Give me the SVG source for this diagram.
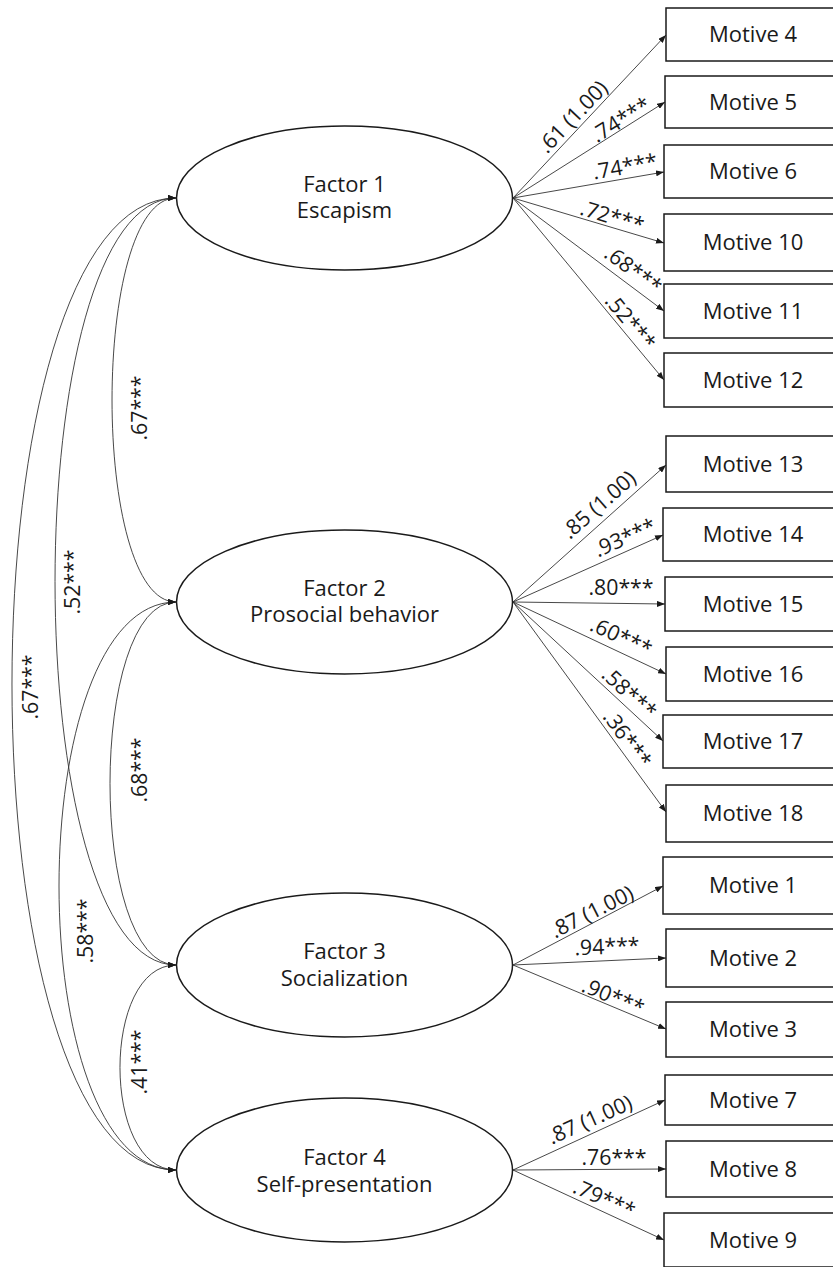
<svg xmlns="http://www.w3.org/2000/svg" width="833" height="1267" viewBox="0 0 833 1267">
<style>
  .bg{fill:#ffffff}
  .ell{fill:#ffffff;stroke:#1a1a1a;stroke-width:1.5}
  .box{fill:#ffffff;stroke:#1a1a1a;stroke-width:1.5}
  .nt{font-family:"Open Sans","Noto Sans","DejaVu Sans",sans-serif;font-size:22px;fill:#1a1a1a;text-anchor:middle}
  .lb{font-family:"Open Sans","Noto Sans","DejaVu Sans",sans-serif;font-size:21.3px;fill:#1a1a1a;text-anchor:middle}
  .ld{fill:none;stroke:#333333;stroke-width:0.9;marker-end:url(#ah)}
  .cv{fill:none;stroke:#333333;stroke-width:0.9;marker-start:url(#ah2);marker-end:url(#ah)}
</style>
<defs>
  <marker id="ah" viewBox="0 0 8 6" refX="8" refY="3" markerWidth="8" markerHeight="6" markerUnits="userSpaceOnUse" orient="auto">
    <path d="M0,0 L8,3 L0,6 z" fill="#1a1a1a"/>
  </marker>
  <marker id="ah2" viewBox="0 0 8 6" refX="8" refY="3" markerWidth="8" markerHeight="6" markerUnits="userSpaceOnUse" orient="auto-start-reverse">
    <path d="M0,0 L8,3 L0,6 z" fill="#1a1a1a"/>
  </marker>
</defs>
<rect class="bg" x="0" y="0" width="833" height="1267"/>

<g id="connectors">
  <path class="cv" d="M176,198 C90.7,198 90.7,602 176,602"/>
  <path class="cv" d="M176,198 C14.7,198 14.7,965 176,965"/>
  <path class="cv" d="M176,198 C-42.7,198 -42.7,1170 176,1170"/>
  <path class="cv" d="M176,602 C88,602 88,965 176,965"/>
  <path class="cv" d="M176,602 C20,602 20,1170 176,1170"/>
  <path class="cv" d="M176,965 C101.3,965 101.3,1170 176,1170"/>
  <line class="ld" x1="513" y1="198" x2="666" y2="35"/>
  <line class="ld" x1="513" y1="198" x2="665" y2="102"/>
  <line class="ld" x1="513" y1="198" x2="664" y2="172"/>
  <line class="ld" x1="513" y1="198" x2="664" y2="243"/>
  <line class="ld" x1="513" y1="198" x2="664" y2="311"/>
  <line class="ld" x1="513" y1="198" x2="664" y2="380"/>
  <line class="ld" x1="513" y1="602" x2="666" y2="465"/>
  <line class="ld" x1="513" y1="602" x2="663" y2="535"/>
  <line class="ld" x1="513" y1="602" x2="665" y2="604"/>
  <line class="ld" x1="513" y1="602" x2="666" y2="674"/>
  <line class="ld" x1="513" y1="602" x2="663" y2="741"/>
  <line class="ld" x1="513" y1="602" x2="666" y2="812"/>
  <line class="ld" x1="513" y1="965" x2="663" y2="886"/>
  <line class="ld" x1="513" y1="965" x2="666" y2="958"/>
  <line class="ld" x1="513" y1="965" x2="666" y2="1029"/>
  <line class="ld" x1="513" y1="1170" x2="665" y2="1100"/>
  <line class="ld" x1="513" y1="1170" x2="666" y2="1169"/>
  <line class="ld" x1="513" y1="1170" x2="664" y2="1240"/>

  <text class="lb" transform="translate(573,117) rotate(-46.5)" y="7">.61 (1.00)</text>
  <text class="lb" transform="translate(621,120) rotate(-31.9)" y="7">.74***</text>
  <text class="lb" transform="translate(625,167) rotate(-9.8)" y="7">.74***</text>
  <text class="lb" transform="translate(612,217) rotate(16.7)" y="7">.72***</text>
  <text class="lb" transform="translate(633,270) rotate(36.6)" y="7">.68***</text>
  <text class="lb" transform="translate(630,322) rotate(50.2)" y="7">.52***</text>
  <text class="lb" transform="translate(599,505) rotate(-41.4)" y="7">.85 (1.00)</text>
  <text class="lb" transform="translate(625,538) rotate(-23.7)" y="7">.93***</text>
  <text class="lb" transform="translate(621,588)" y="7">.80***</text>
  <text class="lb" transform="translate(621,637) rotate(24.9)" y="7">.60***</text>
  <text class="lb" transform="translate(629,693) rotate(42.4)" y="7">.58***</text>
  <text class="lb" transform="translate(627,739) rotate(53.7)" y="7">.36***</text>
  <text class="lb" transform="translate(592,912) rotate(-26.9)" y="7">.87 (1.00)</text>
  <text class="lb" transform="translate(607,947) rotate(-2.2)" y="7">.94***</text>
  <text class="lb" transform="translate(613,997) rotate(22.6)" y="7">.90***</text>
  <text class="lb" transform="translate(590,1120) rotate(-24.2)" y="7">.87 (1.00)</text>
  <text class="lb" transform="translate(614,1158)" y="7">.76***</text>
  <text class="lb" transform="translate(604,1199) rotate(24.2)" y="7">.79***</text>

  <text class="lb" transform="translate(140,408) rotate(-90)" y="7">.67***</text>
  <text class="lb" transform="translate(73,582) rotate(-90)" y="7">.52***</text>
  <text class="lb" transform="translate(31,687) rotate(-90)" y="7">.67***</text>
  <text class="lb" transform="translate(140,770) rotate(-90)" y="7">.68***</text>
  <text class="lb" transform="translate(86,931) rotate(-90)" y="7">.58***</text>
  <text class="lb" transform="translate(140,1062) rotate(-90)" y="7">.41***</text>
</g>

<g id="factor1">
  <ellipse class="ell" cx="344.5" cy="198" rx="168" ry="72"/>
  <text class="nt" x="344.5" y="192">Factor 1<tspan x="344.5" dy="26">Escapism</tspan></text>
</g>
<g id="factor2">
  <ellipse class="ell" cx="344.5" cy="602" rx="168" ry="72"/>
  <text class="nt" x="344.5" y="596">Factor 2<tspan x="344.5" dy="26">Prosocial behavior</tspan></text>
</g>
<g id="factor3">
  <ellipse class="ell" cx="344.5" cy="965" rx="168" ry="72"/>
  <text class="nt" x="344.5" y="959">Factor 3<tspan x="344.5" dy="27">Socialization</tspan></text>
</g>
<g id="factor4">
  <ellipse class="ell" cx="344.5" cy="1170" rx="168" ry="72"/>
  <text class="nt" x="344.5" y="1165">Factor 4<tspan x="344.5" dy="27">Self-presentation</tspan></text>
</g>

<g id="motive4"><rect class="box" x="666" y="8" width="180" height="53"/><text class="nt" x="753" y="42">Motive 4</text></g>
<g id="motive5"><rect class="box" x="665" y="76" width="180" height="52"/><text class="nt" x="753" y="109.5">Motive 5</text></g>
<g id="motive6"><rect class="box" x="664" y="145" width="180" height="53"/><text class="nt" x="753" y="179">Motive 6</text></g>
<g id="motive10"><rect class="box" x="664" y="214" width="180" height="57"/><text class="nt" x="753" y="250">Motive 10</text></g>
<g id="motive11"><rect class="box" x="664" y="284" width="180" height="54"/><text class="nt" x="753" y="318.5">Motive 11</text></g>
<g id="motive12"><rect class="box" x="664" y="353" width="180" height="54"/><text class="nt" x="753" y="387.5">Motive 12</text></g>
<g id="motive13"><rect class="box" x="666" y="436" width="180" height="56"/><text class="nt" x="753" y="471.5">Motive 13</text></g>
<g id="motive14"><rect class="box" x="663" y="508" width="180" height="53"/><text class="nt" x="753" y="542">Motive 14</text></g>
<g id="motive15"><rect class="box" x="665" y="577" width="180" height="54"/><text class="nt" x="753" y="611.5">Motive 15</text></g>
<g id="motive16"><rect class="box" x="666" y="647" width="180" height="54"/><text class="nt" x="753" y="681.5">Motive 16</text></g>
<g id="motive17"><rect class="box" x="663" y="715" width="180" height="53"/><text class="nt" x="753" y="749">Motive 17</text></g>
<g id="motive18"><rect class="box" x="666" y="785" width="180" height="57"/><text class="nt" x="753" y="821">Motive 18</text></g>
<g id="motive1"><rect class="box" x="663" y="857" width="180" height="57"/><text class="nt" x="753" y="893">Motive 1</text></g>
<g id="motive2"><rect class="box" x="666" y="929" width="180" height="58"/><text class="nt" x="753" y="965.5">Motive 2</text></g>
<g id="motive3"><rect class="box" x="666" y="1002" width="180" height="55"/><text class="nt" x="753" y="1037">Motive 3</text></g>
<g id="motive7"><rect class="box" x="665" y="1075" width="180" height="50"/><text class="nt" x="753" y="1107.5">Motive 7</text></g>
<g id="motive8"><rect class="box" x="666" y="1141" width="180" height="56"/><text class="nt" x="753" y="1176.5">Motive 8</text></g>
<g id="motive9"><rect class="box" x="664" y="1213" width="180" height="54"/><text class="nt" x="753" y="1247.5">Motive 9</text></g>
</svg>
